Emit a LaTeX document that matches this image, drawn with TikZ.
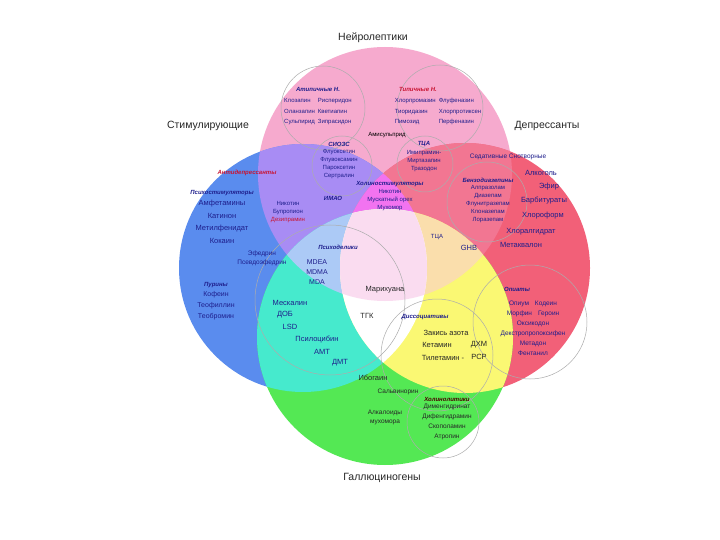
\documentclass[tikz,border=0pt]{standalone}
\usepackage{fontspec}
\setmainfont{Liberation Sans}
\usetikzlibrary{positioning}
% region colours
\definecolor{pinkN}{RGB}{246,170,206}
\definecolor{blueS}{RGB}{90,140,238}
\definecolor{redD}{RGB}{242,96,120}
\definecolor{greenH}{RGB}{84,232,84}
\definecolor{purpleSN}{RGB}{168,140,244}
\definecolor{salmonDN}{RGB}{242,118,146}
\definecolor{tealSH}{RGB}{70,234,205}
\definecolor{yellowDH}{RGB}{250,248,115}
\definecolor{magentaSND}{RGB}{242,115,240}
\definecolor{lavSNH}{RGB}{172,202,246}
\definecolor{peachDNH}{RGB}{250,222,172}
\definecolor{quadAll}{RGB}{250,220,240}
\definecolor{navyT}{RGB}{30,30,140}
\definecolor{redT}{RGB}{200,20,50}
\tikzset{
  catlabel/.style={font=\fontsize{10.5}{12}\selectfont, text=black!85, inner sep=0pt},
  grphead/.style={font=\fontsize{6}{7}\selectfont\bfseries\itshape, text=#1, inner sep=0pt},
  grphead/.default=navyT,
  druglist/.style={font=\fontsize{6}{8}\selectfont, text=#1, inner sep=0pt, align=center},
  druglist/.default=navyT,
  bigdrug/.style={font=\fontsize{7.5}{12.5}\selectfont, text=#1, inner sep=0pt, align=center},
  bigdrug/.default=navyT,
  subring/.style={draw=gray!65, line width=0.5pt},
}
\def\circN{(385,174) circle (127pt)}
\def\circS{(303,268) circle (124pt)}
\def\circD{(465,268) circle (125pt)}
\def\circH{(385,337) circle (128pt)}
\begin{document}
\begin{tikzpicture}[x=1pt,y=-1pt]
  \useasboundingbox (0,0) rectangle (720,540);
  \fill[white] (0,0) rectangle (720,540);
  % base circles
  \fill[pinkN] \circN;
  \fill[blueS] \circS;
  \fill[redD] \circD;
  \fill[greenH] \circH;
  % two-way overlaps
  \begin{scope}\clip \circS; \fill[purpleSN] \circN; \end{scope}
  \begin{scope}\clip \circD; \fill[salmonDN] \circN; \end{scope}
  \begin{scope}\clip \circS; \fill[tealSH] \circH; \end{scope}
  \begin{scope}\clip \circD; \fill[yellowDH] \circH; \end{scope}
  % three-way overlaps
  \begin{scope}\clip \circS; \clip \circN; \fill[magentaSND] \circD; \end{scope}
  \begin{scope}\clip \circS; \clip \circN; \fill[lavSNH] \circH; \end{scope}
  \begin{scope}\clip \circD; \clip \circN; \fill[peachDNH] \circH; \end{scope}
  \begin{scope}\clip \circS; \clip \circD; \fill[white] \circH; \end{scope}
  % all four
  \begin{scope}\clip \circS; \clip \circD; \clip \circN; \fill[quadAll] \circH; \end{scope}
  % sub-group rings
  \draw[subring] (323,108) circle (42pt);
  \draw[subring] (440,108) circle (43pt);
  \draw[subring] (342,166) circle (30pt);
  \draw[subring] (425,164) circle (28pt);
  \draw[subring] (487,202) circle (40pt);
  \draw[subring] (530,322) circle (57pt);
  \draw[subring] (437,355) circle (56pt);
  \draw[subring] (443,422) circle (36pt);
  \draw[subring] (330,300) circle (75pt);

  % category labels
  \node[catlabel] (nlabel) at (373,38) {Нейролептики};
  \node[catlabel] (slabel) at (208,126) {Стимулирующие};
  \node[catlabel] (dlabel) at (547,126) {Депрессанты};
  \node[catlabel] (hlabel) at (382,478) {Галлюциногены};

  % neuroleptics
  \node[grphead] (atyph) at (318,89) {Атипичные Н.};
  \node[druglist, below=4pt of atyph, font=\fontsize{6}{10.5}\selectfont] (atypl)
    {\begin{tabular}{@{}l@{\hspace{3pt}}l@{}}Клозапин & Рисперидон\\Оланзапин & Кветиапин\\Сульпирид & Зипрасидон\end{tabular}};
  \node[grphead=redT] (typh) at (418,89) {Типичные Н.};
  \node[druglist, below=4pt of typh, xshift=20pt, font=\fontsize{6}{10.5}\selectfont] (typl)
    {\begin{tabular}{@{}l@{\hspace{3pt}}l@{}}Хлорпромазин & Флуфеназин\\Тиоридазин & Хлорпротиксен\\Пимозид & Перфеназин\end{tabular}};
  \node[druglist=black] (amis) at (387,135) {Амисульприд};

  % antidepressants
  \node[grphead] (ssrih) at (339,144) {СИОЗС};
  \node[druglist, below=3pt of ssrih] (ssril) {Флуоксетин\\Флувоксамин\\Пароксетин\\Сертралин};
  \node[grphead] (tcah) at (424,144) {ТЦА};
  \node[druglist, below=3pt of tcah] (tcal) {Имипрамин-\\Миртазапин\\Тразодон};
  \node[grphead] (maoh) at (333,198) {ИМАО};
  \node[grphead] (cholh) at (390,184) {Холиностимуляторы};
  \node[druglist, below=2pt of cholh] (chol) {Никотин\\Мускатный орех\\Мухомор};
  \node[grphead=redT] (antideph) at (247,173) {Антидепрессанты};
  \node[druglist] (nicot) at (288,212) {Никотин\\Бупропион\\\textcolor{redT}{Дезипрамин}};

  % stimulants
  \node[grphead] (stimh) at (222,193) {Психостимуляторы};
  \node[bigdrug, below=4pt of stimh] (stiml) {Амфетамины\\Катинон\\Метилфенидат\\Кокаин};
  \node[druglist, font=\fontsize{6.5}{9}\selectfont] (ephed) at (262,258) {Эфедрин\\Псевдоэфедрин};
  \node[grphead] (purh) at (216,285) {Пурины};
  \node[bigdrug, below=3pt of purh, font=\fontsize{7}{11}\selectfont] (purl) {Кофеин\\Теофиллин\\Теобромин};

  % hallucinogens
  \node[grphead] (psychh) at (338,247) {Психоделики};
  \node[bigdrug, font=\fontsize{7}{10}\selectfont] (mdma) at (317,272) {MDEA\\MDMA\\MDA};
  \node[bigdrug] (mesc) at (290,303) {Мескалин};
  \node[bigdrug] (dob) at (285,315) {ДОБ};
  \node[bigdrug] (lsd) at (290,327) {LSD};
  \node[bigdrug] (psil) at (317,339) {Псилоцибин};
  \node[bigdrug] (amt) at (322,352) {АМТ};
  \node[bigdrug] (dmt) at (340,363) {ДМТ};
  \node[bigdrug=black!85] (cann) at (385,290) {Марихуана};
  \node[bigdrug=black!85] (thc) at (367,316) {ТГК};
  \node[grphead] (dissh) at (425,317) {Диссоциативы};
  \node[bigdrug=black!85] (n2o) at (446,333) {Закись азота};
  \node[bigdrug=black!85] (ket) at (437,345) {Кетамин};
  \node[bigdrug=black!85] (til) at (443,358) {Тилетамин -};
  \node[bigdrug=black!85] (dxm) at (479,345) {ДХМ};
  \node[bigdrug=black!85] (pcp) at (479,357) {РСР};
  \node[bigdrug=black!85] (ibo) at (373,378) {Ибогаин};
  \node[druglist=black!85, font=\fontsize{6.5}{8}\selectfont] (salv) at (398,392) {Сальвинорин};
  \node[druglist=black!85, font=\fontsize{6.5}{9}\selectfont] (amanita) at (385,417) {Алкалоиды\\мухомора};
  \node[grphead=black!70!red] (delirh) at (447,399) {Холинолитики};
  \node[druglist=black!85, below=3pt of delirh, font=\fontsize{6.5}{10}\selectfont] (delirl)
    {Дименгидринат\\Дифенгидрамин\\Скополамин\\Атропин};

  % depressants
  \node[druglist] (ghb) at (437,237) {ТЦА};
  \node[bigdrug] (ghb2) at (469,248) {GHB};
  \node[druglist, font=\fontsize{6.5}{8}\selectfont] (sedh) at (508,157) {Седативные Снотворные};
  \node[bigdrug] (alc) at (541,173) {Алкоголь};
  \node[bigdrug] (ether) at (549,187) {Эфир};
  \node[bigdrug] (barb) at (544,201) {Барбитураты};
  \node[bigdrug] (chlf) at (543,216) {Хлороформ};
  \node[bigdrug] (chlh) at (531,232) {Хлоралгидрат};
  \node[bigdrug] (meth) at (521,245) {Метаквалон};
  \node[grphead] (benzoh) at (488,180) {Бензодиазепины};
  \node[druglist, below=3pt of benzoh] (benzol) {Алпразолам\\Диазепам\\Флунитразепам\\Клоназепам\\Лоразепам};
  \node[grphead] (opih) at (517,289) {Опиаты};
  \node[druglist, font=\fontsize{6.5}{10}\selectfont] (opil) at (533,328)
    {Опиум\hspace{6pt}Кодеин\\Морфин\hspace{6pt}Героин\\Оксикодон\\Декстропропоксифен\\Метадон\\Фентанил};
\end{tikzpicture}
\end{document}
